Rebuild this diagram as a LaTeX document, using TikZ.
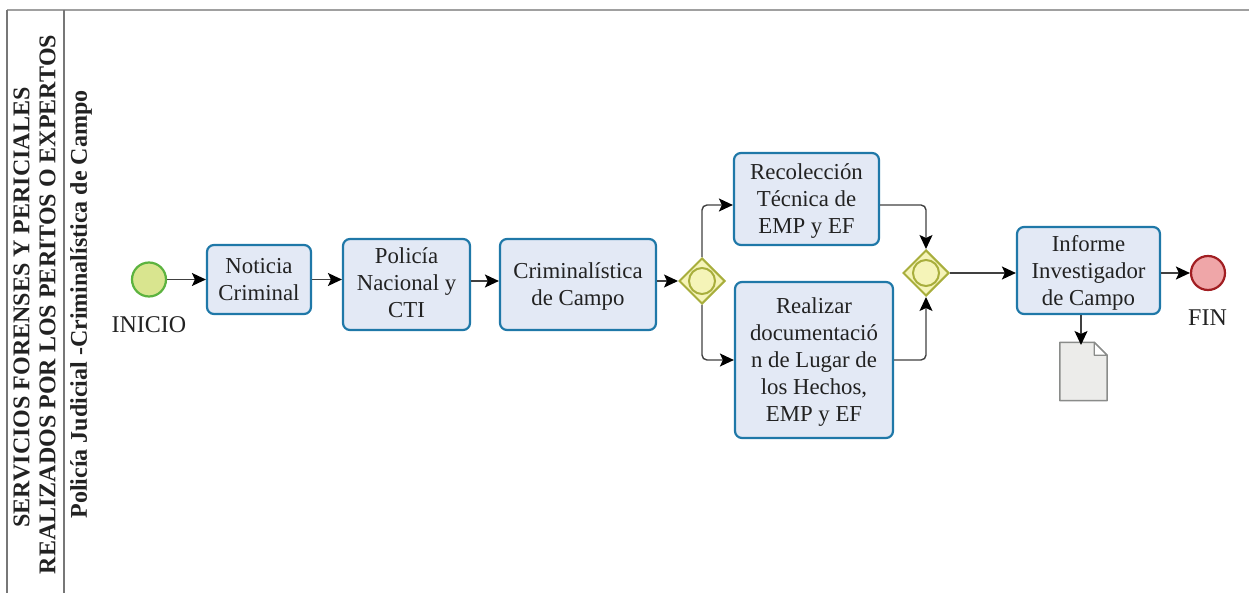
\documentclass[tikz,border=0pt]{standalone}
\usepackage{fontspec}
\setmainfont{Liberation Serif}
\usetikzlibrary{arrows.meta,shapes.geometric}
\definecolor{txt}{HTML}{222222}
\definecolor{boxfill}{HTML}{E3E9F5}
\definecolor{boxline}{HTML}{1F78A8}
\definecolor{startfill}{HTML}{D9E58F}
\definecolor{startline}{HTML}{5CB33F}
\definecolor{endfill}{HTML}{EFA6A8}
\definecolor{endline}{HTML}{A11E22}
\definecolor{gatefill}{HTML}{F5F4B8}
\definecolor{gateline}{HTML}{A8AE3C}
\definecolor{docfill}{HTML}{ECECEA}
\definecolor{docline}{HTML}{8A8C8A}
\definecolor{lane}{HTML}{777777}
\newcommand{\txtdown}[1]{\rule{0pt}{\dimexpr 15.6pt+2\dimexpr #1\relax\relax}}
\newcommand{\txtup}[1]{\rule[-2\dimexpr #1\relax]{0pt}{0pt}}
\tikzset{
  taskbox/.style={draw=boxline,fill=boxfill,line width=2.2pt,rounded corners=7pt,align=center,
    font=\fontsize{22.8}{27}\selectfont,text=txt,inner sep=0pt},
  startev/.style={circle,draw=startline,fill=startfill,line width=2.2pt,minimum size=34pt,inner sep=0pt},
  endev/.style={circle,draw=endline,fill=endfill,line width=2.2pt,minimum size=34pt,inner sep=0pt},
  gate/.style={diamond,draw=gateline,fill=gatefill,line width=2pt,minimum width=46pt,minimum height=46pt,inner sep=0pt},
  gatering/.style={circle,draw=gateline,line width=2pt,minimum size=26pt,inner sep=0pt},
  flow/.style={draw=black!75,line width=1.4pt,rounded corners=5pt,-{Stealth[length=14pt,width=13pt,inset=3pt,color=black]}},
  evlabel/.style={font=\fontsize{24}{28}\selectfont,text=txt,inner sep=0pt},
  lanehead/.style={rotate=90,font=\bfseries\fontsize{24}{28}\selectfont,text=txt,inner sep=0pt},
  laneline/.style={draw=lane,line width=1.5pt},
}
\begin{document}
\begin{tikzpicture}[x=1pt,y=-1pt]
\useasboundingbox (0,0) rectangle (1249,593);
% lanes
\draw[draw=lane!70,line width=1.4pt] (7,10) -- (1249,10);
\draw[laneline] (7,10) -- (7,593);
\draw[laneline] (64,10) -- (64,593);
\node[lanehead] (h1) at (21.5,307.5) {SERVICIOS FORENSES Y PERICIALES};
\node[lanehead] (h2) at (47.5,304.5) {REALIZADOS POR LOS PERITOS O EXPERTOS};
\node[lanehead] (h3) at (81,304.5) {Policía Judicial -Criminalística de Campo};
% events
\node[startev] (start) at (149,279.5) {};
\node[evlabel] (startl) at (149,325) {INICIO};
\node[endev] (end) at (1208,273) {};
\node[evlabel] (endl) at (1207.5,318) {FIN};
% tasks
\node[taskbox,minimum width=104pt,minimum height=69pt] (not) at (259,279.5) {Noticia\\Criminal};
\node[taskbox,minimum width=127pt,minimum height=91pt] (pol) at (406.5,284.5) {Policía\\Nacional y\\CTI\txtup{1.5pt}};
\node[taskbox,minimum width=156pt,minimum height=91pt] (cri) at (578,284.5) {\txtdown{2.5pt}Criminalística\\de Campo};
\node[taskbox,minimum width=145pt,minimum height=92pt] (rec) at (806.5,199) {\txtdown{2pt}Recolección\\Técnica de\\EMP y EF};
\node[taskbox,minimum width=158pt,minimum height=156pt] (rea) at (814,360) {\txtdown{2pt}Realizar\\documentació\\n de Lugar de\\los Hechos,\\EMP y EF};
\node[taskbox,minimum width=143pt,minimum height=87pt] (inf) at (1088.5,270.5) {\txtdown{3pt}Informe\\Investigador\\de Campo};
% gateways
\node[gate] (g1) at (702,281) {};
\node[gatering] (g1r) at (702,281) {};
\node[gate] (g2) at (926,273) {};
\node[gatering] (g2r) at (926,273) {};
% document
\node[minimum width=47pt,minimum height=58pt,inner sep=0pt] (doc) at (1083.5,371.5) {};
\draw[draw=docline,fill=docfill,line width=1.5pt,line join=round]
  (doc.north west) -- ([xshift=-13pt]doc.north east) -- ([yshift=-13pt]doc.north east)
  -- (doc.south east) -- (doc.south west) -- cycle;
\draw[draw=docline,fill=white,line width=1.3pt,line join=round]
  ([xshift=-13pt]doc.north east) -- ([xshift=-13pt,yshift=-13pt]doc.north east) -- ([yshift=-13pt]doc.north east) -- cycle;
% routing points
\coordinate (recin) at (rec.west |- 0,205);
\coordinate (recout) at (rec.east |- 0,205);
\coordinate (docin) at (1081,345);
\coordinate (infdown) at (inf.south -| docin);
% connectors
\draw[flow] (start) -- (start -| not.west);
\draw[flow] (not.east) -- (not.east -| pol.west);
\draw[flow] (pol.east |- g1) -- (cri.west |- g1);
\draw[flow] (cri.east |- g1) -- (g1.west);
\draw[flow] (g1.north) |- (recin);
\draw[flow] (g1.south) |- (rea.west);
\draw[flow] (recout) -| (g2.north);
\draw[flow] (rea.east) -| (g2.south);
\draw[flow] (g2.east) -- (inf.west |- g2);
\draw[flow] (inf.east |- end) -- (end.west);
\draw[flow] (infdown) -- (docin);
\end{tikzpicture}
\end{document}
